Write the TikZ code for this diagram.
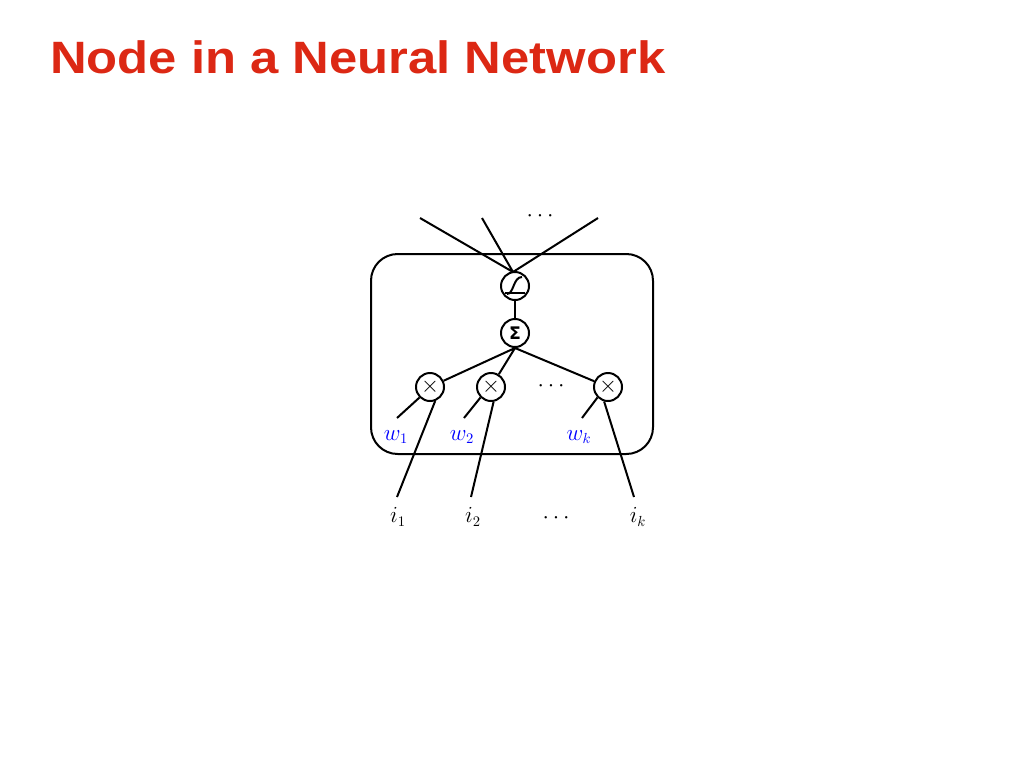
\documentclass[tikz,border=0pt]{standalone}
\usepackage{fontspec}
\newfontfamily\titlefont{Liberation Sans}
\newfontfamily\symfont{DejaVu Sans}
\begin{document}
\begin{tikzpicture}[x=0.75pt,y=-0.75pt,
  ln/.style={line width=1.5pt},
  op/.style={circle,draw,line width=1.5pt,minimum size=21pt,inner sep=0pt},
  lab/.style={font=\fontsize{16}{16}\selectfont},
  wl/.style={lab,text=blue}]
\useasboundingbox (0,0) rectangle (1024,768);
\node[anchor=west,xscale=1.12,text={rgb,255:red,220;green,40;blue,20},font=\titlefont\bfseries\fontsize{34}{34}\selectfont] (title) at (45,57) {Node in a Neural Network};
\draw[ln,rounded corners=20pt] (371,254) rectangle (653,454);
\node[op] (f) at (515,286) {};
\node[op] (s) at (515,333) {\symfont\bfseries\fontsize{13}{13}\selectfont Σ};
\node[op] (m1) at (430,387) {\LARGE$\times$};
\node[op] (m2) at (491,387) {\LARGE$\times$};
\node[op] (mk) at (608,387) {\LARGE$\times$};
% sigmoid glyph
\draw[ln] (505,293) -- (525,293);
\draw[ln] (507,294) .. controls (514,294) and (513,277) .. (522,277);
\coordinate (o1) at (420,218);
\coordinate (o2) at (482,218);
\coordinate (o3) at (598,218);
\coordinate (fin) at (513,272);
\draw[ln] (o1) -- (fin) (o2) -- (fin) (o3) -- (fin);
\node[lab] (odots) at (540,216) {$\cdots$};
\draw[ln] (f) -- (s);
\draw[ln] (s.south) -- (m1) (s.south) -- (m2) (s.south) -- (mk);
\node[lab] (mdots) at (551,386) {$\cdots$};
\coordinate (wa) at (397,418); \coordinate (wb) at (464,418); \coordinate (wc) at (582,418);
\draw[ln] (m1.225) -- (wa) (m2.225) -- (wb) (mk.225) -- (wc);
\node[wl] (w1) at (396,437) {$w_1$};
\node[wl] (w2) at (462,437) {$w_2$};
\node[wl] (wk) at (579,437) {$w_k$};
\coordinate (ia) at (397,497); \coordinate (ib) at (471,497); \coordinate (ic) at (634,497);
\draw[ln] (m1.290) -- (ia) (m2.280) -- (ib) (mk.255) -- (ic);
\node[lab] (i1) at (398,517) {$i_1$};
\node[lab] (i2) at (473,517) {$i_2$};
\node[lab] (idots) at (556,518) {$\cdots$};
\node[lab] (ik) at (638,517) {$i_k$};
\end{tikzpicture}
\end{document}
